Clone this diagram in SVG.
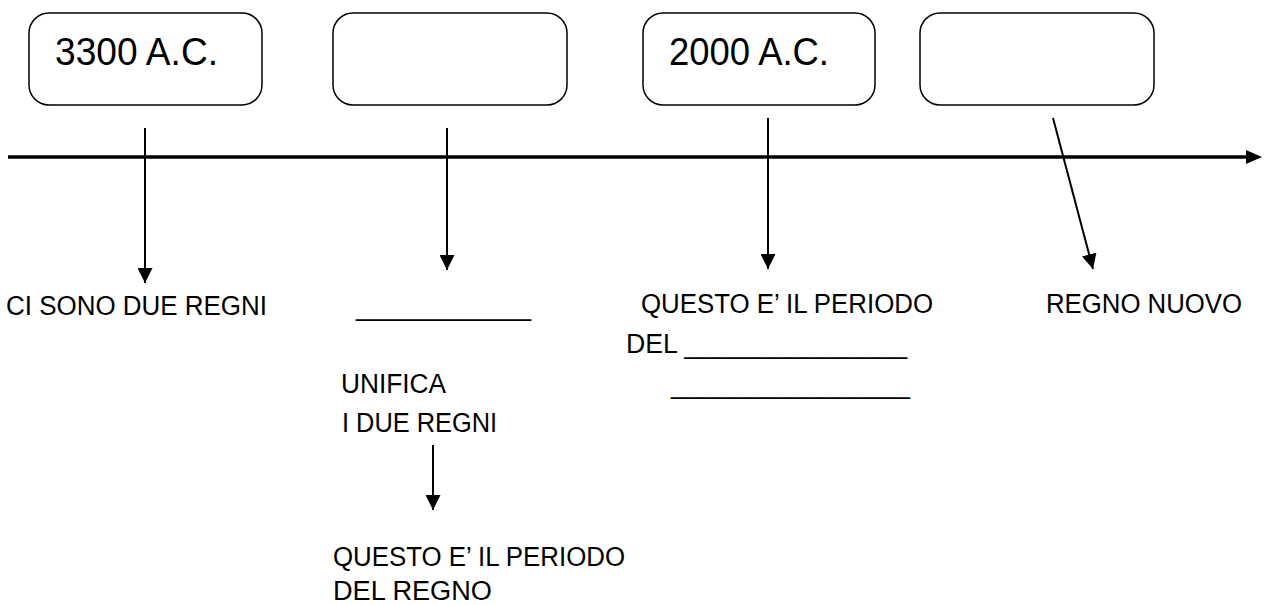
<svg xmlns="http://www.w3.org/2000/svg" width="1266" height="605" viewBox="0 0 1266 605">
<style>
.box{fill:#fff;stroke:#000;stroke-width:1.5}
.big{font-family:"Liberation Sans",Arial,sans-serif;font-size:38px;fill:#000}
.t{font-family:"Liberation Sans",Arial,sans-serif;font-size:27px;fill:#000}
.c{stroke:#000;stroke-width:2;fill:none}
</style>
<defs>
<marker id="ahBig" viewBox="0 0 10 10" refX="10" refY="5" markerWidth="15" markerHeight="15" markerUnits="userSpaceOnUse" orient="auto">
<path d="M0,0 L10,5 L0,10 Z" fill="#000"/>
</marker>
</defs>
<rect width="1266" height="605" fill="#fff"/>
<g id="box1"><rect class="box" x="29" y="13" width="233" height="92" rx="20"/><text class="big" x="55" y="65" textLength="163" lengthAdjust="spacingAndGlyphs">3300 A.C.</text></g>
<g id="box2"><rect class="box" x="333" y="13" width="234" height="92" rx="20"/></g>
<g id="box3"><rect class="box" x="643" y="13" width="232" height="92" rx="20"/><text class="big" x="669" y="65" textLength="160" lengthAdjust="spacingAndGlyphs">2000 A.C.</text></g>
<g id="box4"><rect class="box" x="920" y="13" width="234" height="92" rx="20"/></g>
<g id="connectors">
<path d="M8,157 L1248,157" stroke="#000" stroke-width="3.5" fill="none"/>
<path d="M1246,150 L1262,157 L1246,164 Z" fill="#000"/>
<line class="c" x1="145" y1="128" x2="145" y2="283" marker-end="url(#ahBig)"/>
<line class="c" x1="447" y1="128" x2="447" y2="270" marker-end="url(#ahBig)"/>
<line class="c" x1="768" y1="118" x2="768" y2="269" marker-end="url(#ahBig)"/>
<line class="c" x1="1053" y1="118" x2="1093" y2="269" marker-end="url(#ahBig)"/>
<line class="c" x1="433" y1="445" x2="433" y2="510" marker-end="url(#ahBig)"/>
</g>
<g id="label1"><text class="t" x="6" y="315" textLength="261" lengthAdjust="spacingAndGlyphs">CI SONO DUE REGNI</text></g>
<g id="label2">
<text class="t" x="356" y="315" textLength="175" lengthAdjust="spacingAndGlyphs">____________</text>
<text class="t" x="341" y="393" textLength="105" lengthAdjust="spacingAndGlyphs">UNIFICA</text>
<text class="t" x="342" y="432" textLength="155" lengthAdjust="spacingAndGlyphs">I DUE REGNI</text>
</g>
<g id="label5">
<text class="t" x="333" y="566" textLength="292" lengthAdjust="spacingAndGlyphs">QUESTO E’ IL PERIODO</text>
<text class="t" x="333" y="600" textLength="159" lengthAdjust="spacingAndGlyphs">DEL REGNO</text>
</g>
<g id="label3">
<text class="t" x="641" y="313" textLength="292" lengthAdjust="spacingAndGlyphs">QUESTO E’ IL PERIODO</text>
<text class="t" x="626" y="353" textLength="281" lengthAdjust="spacingAndGlyphs">DEL _______________</text>
<text class="t" x="671" y="393" textLength="239" lengthAdjust="spacingAndGlyphs">________________</text>
</g>
<g id="label4"><text class="t" x="1046" y="313" textLength="196" lengthAdjust="spacingAndGlyphs">REGNO NUOVO</text></g>
</svg>
